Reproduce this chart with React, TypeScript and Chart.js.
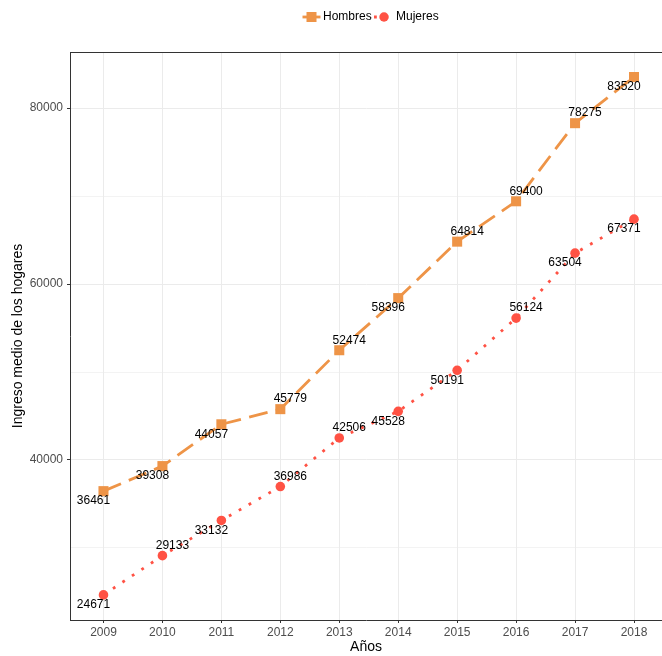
import React, { useEffect, useRef } from 'react';
import { Chart, registerables } from 'chart.js';

Chart.register(...registerables);

const years = [2009, 2010, 2011, 2012, 2013, 2014, 2015, 2016, 2017, 2018];
const hombres = [36461, 39308, 44057, 45779, 52474, 58396, 64814, 69400, 78275, 83520];
const mujeres = [24671, 29133, 33132, 36986, 42506, 45528, 50191, 56124, 63504, 67371];
// 1 = label above-right of the point, -1 = below-left
const hombresLabelSide = [-1, -1, -1, 1, 1, -1, 1, 1, 1, -1];
const mujeresLabelSide = [-1, 1, -1, 1, 1, -1, -1, 1, -1, -1];
const yTicks = [30000, 40000, 50000, 60000, 70000, 80000];
const yLabelTicks = [40000, 60000, 80000];
const seriesNames = ['Hombres', 'Mujeres'];

const ORANGE = '#EE9447';
const RED = '#FF5244';
const FONT = 'Liberation Sans, Arial, sans-serif';

const labelSides = [hombresLabelSide, mujeresLabelSide];

const dataLabelPlugin = {
  id: 'dataLabels',
  afterDatasetsDraw(chart: any) {
    const ctx = chart.ctx;
    ctx.save();
    ctx.font = `12px ${FONT}`;
    ctx.fillStyle = '#000';
    ctx.textAlign = 'center';
    ctx.textBaseline = 'middle';
    chart.data.datasets.forEach((ds: any, di: number) => {
      const meta = chart.getDatasetMeta(di);
      meta.data.forEach((pt: any, i: number) => {
        const side = labelSides[di][i];
        const v = ds.data[i].y;
        ctx.fillText(String(v), pt.x + side * 10, pt.y - side * 10);
      });
    });
    ctx.restore();
  },
};

const frameLegendPlugin = {
  id: 'frameLegend',
  afterDraw(chart: any) {
    const ctx = chart.ctx;
    const a = chart.chartArea;
    ctx.save();
    ctx.strokeStyle = '#333333';
    ctx.lineWidth = 1;
    ctx.beginPath();
    ctx.moveTo(a.left, a.top + 0.5);
    ctx.lineTo(a.right, a.top + 0.5);
    ctx.stroke();

    const y = 17;
    ctx.font = `12px ${FONT}`;
    ctx.textBaseline = 'middle';
    ctx.textAlign = 'left';
    ctx.strokeStyle = ORANGE;
    ctx.lineWidth = 2.8;
    ctx.beginPath();
    ctx.moveTo(302.5, y);
    ctx.lineTo(320.5, y);
    ctx.stroke();
    ctx.fillStyle = ORANGE;
    ctx.fillRect(311.5 - 5, y - 5, 10, 10);
    ctx.fillStyle = '#000';
    ctx.fillText(seriesNames[0], 323, y);
    ctx.strokeStyle = RED;
    ctx.setLineDash([2.8, 8.6]);
    ctx.beginPath();
    ctx.moveTo(374, y);
    ctx.lineTo(393, y);
    ctx.stroke();
    ctx.setLineDash([]);
    ctx.fillStyle = RED;
    ctx.beginPath();
    ctx.arc(384, y, 4.7, 0, Math.PI * 2);
    ctx.fill();
    ctx.fillStyle = '#000';
    ctx.fillText(seriesNames[1], 396, y);
    ctx.restore();
  },
};

export default function App() {
  const ref = useRef<HTMLCanvasElement>(null);

  useEffect(() => {
    const chart = new Chart(ref.current as HTMLCanvasElement, {
      type: 'line',
      data: {
        datasets: [
          {
            label: seriesNames[0],
            data: years.map((x, i) => ({ x, y: hombres[i] })),
            borderColor: ORANGE,
            backgroundColor: ORANGE,
            borderWidth: 2.8,
            borderDash: [19, 8.5],
            pointStyle: 'rect',
            pointRadius: 7.1,
            pointBorderWidth: 0,
            pointBackgroundColor: ORANGE,
            tension: 0,
          },
          {
            label: seriesNames[1],
            data: years.map((x, i) => ({ x, y: mujeres[i] })),
            borderColor: RED,
            backgroundColor: RED,
            borderWidth: 2.8,
            borderDash: [2.8, 8.6],
            pointStyle: 'circle',
            pointRadius: 4.8,
            pointBorderWidth: 0,
            pointBackgroundColor: RED,
            tension: 0,
          },
        ],
      },
      options: {
        responsive: false,
        devicePixelRatio: 1,
        animation: false,
        events: [],
        layout: { autoPadding: false, padding: { top: 52, left: 0, right: 0, bottom: 0 } },
        plugins: {
          legend: { display: false },
          tooltip: { enabled: false },
        },
        scales: {
          x: {
            type: 'linear',
            min: 2008.432,
            max: 2018.475,
            afterBuildTicks: (scale: any) => {
              scale.ticks = years.map((v) => ({ value: v }));
            },
            afterFit: (scale: any) => {
              scale.height = 36;
              scale.paddingLeft = 0;
              scale.paddingRight = 0;
            },
            ticks: {
              callback: (v: any) => String(v),
              color: '#4D4D4D',
              font: { family: FONT, size: 12 },
              padding: 2,
              maxRotation: 0,
              autoSkip: false,
            },
            grid: {
              color: '#EBEBEB',
              lineWidth: 1,
              tickColor: '#333333',
              tickLength: 3,
            },
            border: { display: true, color: '#333333', width: 1 },
            title: {
              display: true,
              text: 'Años',
              color: '#000',
              font: { family: FONT, size: 14 },
              padding: { top: 0, bottom: 0 },
            },
          },
          y: {
            type: 'linear',
            min: 21818,
            max: 86364,
            afterBuildTicks: (scale: any) => {
              scale.ticks = yTicks.map((v) => ({ value: v }));
            },
            afterFit: (scale: any) => {
              scale.width = 70;
              scale.paddingTop = 0;
              scale.paddingBottom = 0;
            },
            ticks: {
              callback: (v: any) => (yLabelTicks.includes(Number(v)) ? String(v) : ''),
              color: '#4D4D4D',
              font: { family: FONT, size: 12 },
              padding: 4,
              autoSkip: false,
            },
            grid: {
              color: '#EBEBEB',
              lineWidth: (c: any) => (c.tick && yLabelTicks.includes(c.tick.value) ? 1 : 0.6),
              tickColor: (c: any) =>
                c.tick && yLabelTicks.includes(c.tick.value) ? '#333333' : 'rgba(0,0,0,0)',
              tickLength: 3,
            },
            border: { display: true, color: '#333333', width: 1 },
            title: {
              display: true,
              text: 'Ingreso medio de los hogares',
              color: '#000',
              font: { family: FONT, size: 14 },
              padding: { top: 10, bottom: 0 },
            },
          },
        },
      },
      plugins: [dataLabelPlugin, frameLegendPlugin],
    } as any);
    return () => chart.destroy();
  }, []);

  return (
    <div style={{ position: 'fixed', left: 0, top: 0, width: 662, height: 656, background: '#fff' }}>
      <canvas ref={ref} width={662} height={656} style={{ display: 'block', width: 662, height: 656 }} />
    </div>
  );
}
